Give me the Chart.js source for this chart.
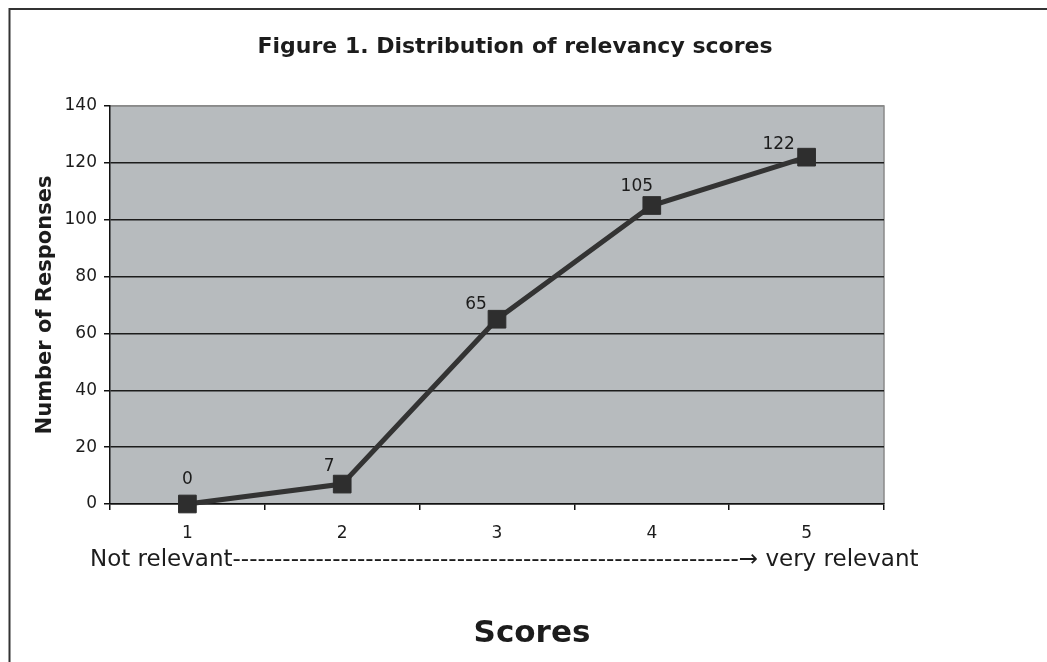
<!DOCTYPE html>
<html>
<head>
<meta charset="utf-8">
<script src="https://cdn.jsdelivr.net/npm/chart.js@4.4.1/dist/chart.umd.min.js"></script>
<style>
  html, body { margin: 0; padding: 0; background: #ffffff; }
  #wrap { width: 1047px; height: 662px; position: relative; }
</style>
</head>
<body>
<div id="wrap"><canvas id="chart" width="1047" height="662"></canvas></div>
<script>
// Relevancy score distribution
const scores = ['1', '2', '3', '4', '5'];
const responses = [0, 7, 65, 105, 122];
const yTicks = [0, 20, 40, 60, 80, 100, 120, 140];

const chartTitle = 'Figure 1. Distribution of relevancy scores';
const yTitle = 'Number of Responses';
const scaleCaption = 'Not relevant' + '-'.repeat(61) + '\u2192 very relevant';
const xTitle = 'Scores';

// label placement relative to each marker (dx, dy in px)
const labelOffsets = [[0, -24], [-13, -18], [-21, -15], [-15, -19], [-28, -13]];

const FONT = "'DejaVu Sans', Verdana, sans-serif";
const PLOT_BG = '#b7bbbe';
const INK = '#1c1c1c';

const framePlugin = {
  id: 'frame',
  beforeDraw(chart) {
    const { ctx, chartArea: a, width, height } = chart;
    ctx.save();
    ctx.fillStyle = '#ffffff';
    ctx.fillRect(0, 0, width, height);
    // outer frame (top and left edges)
    ctx.strokeStyle = '#333333';
    ctx.lineWidth = 2;
    ctx.beginPath();
    ctx.moveTo(width, 9);
    ctx.lineTo(9.5, 9);
    ctx.lineTo(9.5, height);
    ctx.stroke();
    // plot area
    ctx.fillStyle = PLOT_BG;
    ctx.fillRect(a.left, a.top, a.right - a.left, a.bottom - a.top);
    ctx.strokeStyle = '#8a8a8a';
    ctx.lineWidth = 1.5;
    ctx.beginPath();
    ctx.moveTo(a.left, a.top);
    ctx.lineTo(a.right, a.top);
    ctx.lineTo(a.right, a.bottom);
    ctx.stroke();
    ctx.restore();
  },
  afterDraw(chart) {
    const { ctx, chartArea: a } = chart;
    const mid = (a.left + a.right) / 2;
    ctx.save();
    ctx.fillStyle = INK;
    ctx.textBaseline = 'middle';
    ctx.textAlign = 'center';
    ctx.font = 'bold 22px ' + FONT;
    ctx.fillText(chartTitle, mid + 18, 47);
    ctx.textAlign = 'left';
    ctx.font = '23px ' + FONT;
    ctx.fillText(scaleCaption, a.left - 20, 560);
    ctx.textAlign = 'center';
    ctx.font = 'bold 31px ' + FONT;
    ctx.fillText(xTitle, mid + 35, 634);
    ctx.restore();
  }
};

const valueLabels = {
  id: 'valueLabels',
  afterDatasetsDraw(chart) {
    const { ctx } = chart;
    const meta = chart.getDatasetMeta(0);
    const values = chart.data.datasets[0].data;
    ctx.save();
    ctx.fillStyle = INK;
    ctx.font = '17px ' + FONT;
    ctx.textAlign = 'center';
    ctx.textBaseline = 'middle';
    meta.data.forEach((pt, i) => {
      const [dx, dy] = labelOffsets[i];
      ctx.fillText(String(values[i]), pt.x + dx, pt.y + dy);
    });
    ctx.restore();
  }
};

new Chart(document.getElementById('chart'), {
  type: 'line',
  data: {
    labels: scores,
    datasets: [{
      data: responses,
      borderColor: '#333333',
      borderWidth: 5,
      tension: 0,
      pointStyle: 'rect',
      pointRadius: 12.5,
      pointBackgroundColor: '#2e2e2e',
      pointBorderColor: '#2e2e2e',
      pointBorderWidth: 1,
      clip: false
    }]
  },
  options: {
    responsive: false,
    animation: false,
    devicePixelRatio: 1,
    layout: { padding: { left: 10, right: 163, top: 106, bottom: 118 } },
    plugins: {
      legend: { display: false },
      tooltip: { enabled: false },
      title: { display: false }
    },
    scales: {
      x: {
        type: 'category',
        offset: true,
        afterFit(s) { s.height = 40; },
        grid: {
          offset: true,
          drawOnChartArea: false,
          drawTicks: true,
          tickLength: 6,
          color: '#111111',
          tickColor: '#111111',
          lineWidth: 1.5
        },
        border: { display: true, color: '#111111', width: 1.5 },
        ticks: { color: INK, font: { family: FONT, size: 17 }, padding: 13 }
      },
      y: {
        min: 0,
        max: 140,
        afterFit(s) { s.width = 100; },
        afterBuildTicks(s) { s.ticks = yTicks.map(v => ({ value: v })); },
        grid: {
          drawTicks: true,
          tickLength: 6,
          color: ctx => (ctx.tick && ctx.tick.value === 140 ? '#8a8a8a' : '#1c1c1c'),
          tickColor: '#111111',
          lineWidth: 1.5
        },
        border: { display: true, color: '#111111', width: 1.5 },
        ticks: { color: INK, font: { family: FONT, size: 17 }, padding: 7 },
        title: {
          display: true,
          text: yTitle,
          color: INK,
          font: { family: FONT, size: 21, weight: 'bold' },
          padding: { top: 23, bottom: 0 }
        }
      }
    }
  },
  plugins: [framePlugin, valueLabels]
});
</script>
</body>
</html>
